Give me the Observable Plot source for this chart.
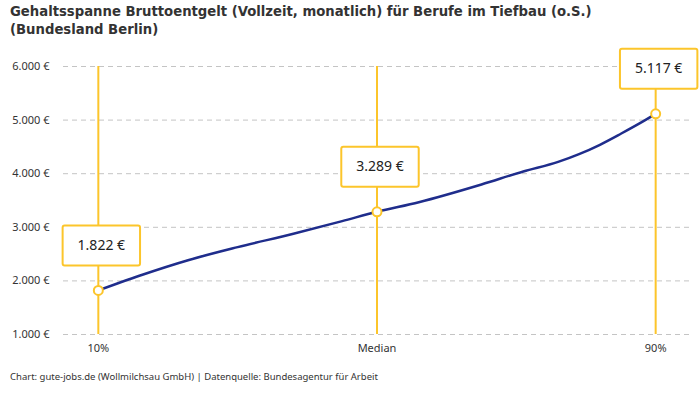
<!DOCTYPE html>
<html><head><meta charset="utf-8">
<script src="https://cdn.jsdelivr.net/npm/d3@7"></script>
<script src="https://cdn.jsdelivr.net/npm/@observablehq/plot@0.6"></script>
<style>
body{margin:0;background:#fff;font-family:"Noto Sans",sans-serif;}
#title{height:42px;box-sizing:border-box;padding:2px 10px 0;font-family:"DejaVu Sans Condensed","DejaVu Sans";font-stretch:condensed;font-weight:bold;font-size:14.7px;line-height:18px;color:#333;}
#caption{padding:8px 10px 0;font-size:9.5px;color:#333;line-height:14px}
</style></head><body>
<div id="title">Gehaltsspanne Bruttoentgelt (Vollzeit, monatlich) für Berufe im Tiefbau (o.S.)<br>(Bundesland Berlin)</div>
<div id="chart"></div>
<div id="caption">Chart: gute-jobs.de (Wollmilchsau GmbH) | Datenquelle: Bundesagentur für Arbeit</div>
<script>
const keyLabels = ["10%", "Median", "90%"];
const keyPercentiles = [10, 50, 90];
const keyValues = [1822, 3289, 5117];
const curvePercentiles = [10, 16, 23, 30, 38, 45, 50, 56, 65, 71, 76, 79, 82, 85, 88, 90];
const curveValues = [1822, 2100, 2390, 2630, 2880, 3115, 3289, 3468, 3799, 4041, 4220, 4365, 4540, 4745, 4961, 5117];
const yTicks = [1000, 2000, 3000, 4000, 5000, 6000];

const locale = d3.formatLocale({decimal: ",", thousands: ".", grouping: [3], currency: ["", " €"]});
const fmt = v => locale.format(",")(v) + " €";

const keyData = keyLabels.map((l, i) => ({label: l, p: keyPercentiles[i], v: keyValues[i]}));
const curveData = curvePercentiles.map((p, i) => ({p, v: curveValues[i]}));

const yellow = "#fcc52b";
const labelFont = "14px 'Noto Sans'";
const ctx = document.createElement("canvas").getContext("2d");
ctx.font = labelFont;

function boxedText(index, scales, values, dimensions, context, next) {
  const g = next(index, scales, values, dimensions, context);
  const ns = "http://www.w3.org/2000/svg";
  const first = g.firstChild;
  for (const i of index) {
    const w = ctx.measureText(fmt(keyData[i].v)).width + 30, h = 40;
    const r = document.createElementNS(ns, "rect");
    r.setAttribute("x", values.x[i] - w / 2);
    r.setAttribute("y", values.y[i] - h / 2);
    r.setAttribute("width", w); r.setAttribute("height", h);
    r.setAttribute("rx", 2);
    r.setAttribute("fill", "white"); r.setAttribute("stroke", yellow); r.setAttribute("stroke-width", 2);
    g.insertBefore(r, first);
  }
  return g;
}

const chart = Plot.plot({
  width: 700, height: 320,
  marginLeft: 63, marginRight: 10, marginTop: 24, marginBottom: 28,
  style: {fontFamily: "Noto Sans", fontSize: "11px", color: "#333"},
  x: {domain: [5, 95], ticks: keyPercentiles, tickFormat: d => keyLabels[keyPercentiles.indexOf(d)], tickSize: 0, tickPadding: 10, label: null},
  y: {domain: [1000, 6000], ticks: yTicks, tickFormat: fmt, tickSize: 0, tickPadding: 14, label: null},
  marks: [
    Plot.gridY(yTicks, {stroke: "#c4c4c4", strokeOpacity: 1, strokeDasharray: "5,4", strokeWidth: 1}),
    Plot.ruleX(keyData, {x: "p", y1: 1000, y2: 6000, stroke: yellow, strokeWidth: 2}),
    Plot.line(curveData, {x: "p", y: "v", curve: "monotone-x", stroke: "#1f2d8c", strokeWidth: 2.5}),
    Plot.dot(keyData, {x: "p", y: "v", r: 4.5, fill: "white", stroke: yellow, strokeWidth: 2}),
    Plot.text(keyData, {x: "p", y: "v", text: d => fmt(d.v), dy: -45, dx: 3, fontSize: 14, fill: "#222", render: boxedText})
  ]
});
document.getElementById("chart").append(chart);
</script>
</body></html>
